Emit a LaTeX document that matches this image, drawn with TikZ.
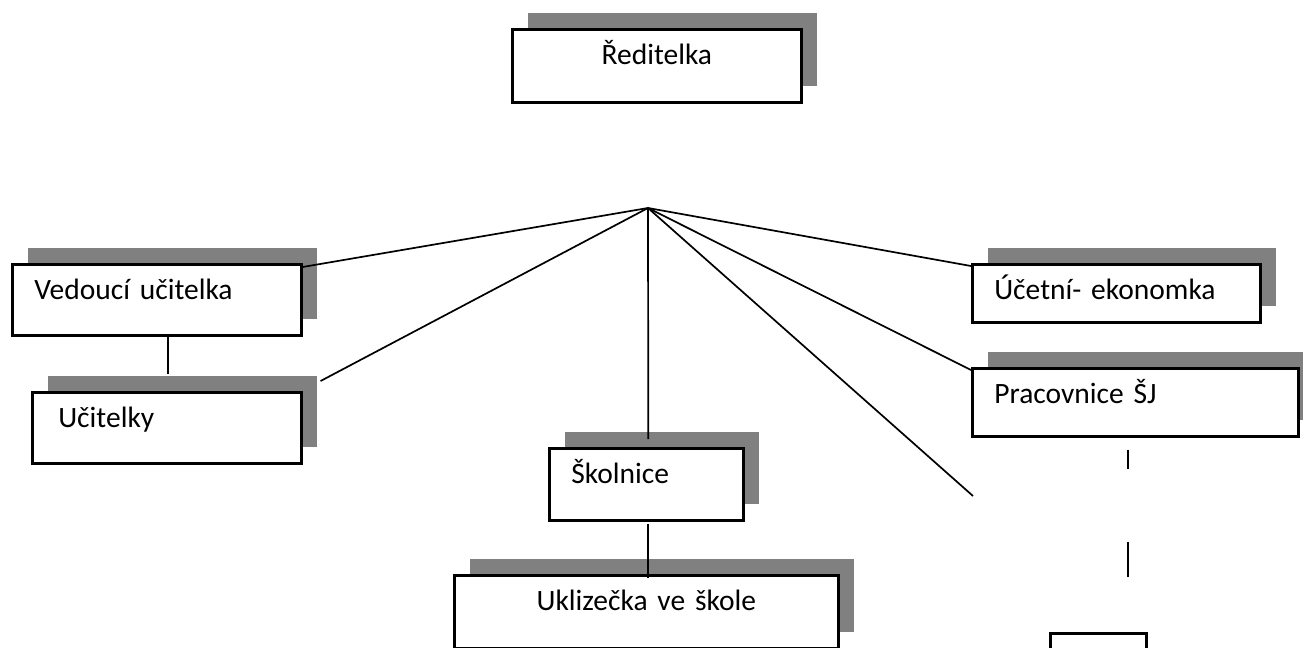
\documentclass[tikz,border=0pt]{standalone}
\usepackage{fontspec}
\setmainfont{Carlito}
\usetikzlibrary{positioning, calc, shadows}
\usepackage{xcolor}
\definecolor{shadowgray}{RGB}{128,128,128}
\newcommand{\orgfont}{\fontsize{14.75pt}{17pt}\selectfont}

\tikzset{
  orgbox/.style={draw, rectangle, line width=1.3pt, fill=white, anchor=north west,
    inner xsep=11pt, inner ysep=0pt, text height=17.5pt, align=left, font=\orgfont,
    general shadow={fill=shadowgray, shadow xshift=7.75pt, shadow yshift=8.25pt}},
  link/.style={line width=0.85pt},
}

\begin{document}
\begin{tikzpicture}[x=0.5pt, y=-0.5pt]
  \useasboundingbox (0,0) rectangle (1303,648);
  \clip (0,0) rectangle (1303,648);

  \node[orgbox, align=center, text width=122.5pt, text depth=19pt] (red) at (511,28) {Ředitelka};

  \node[orgbox, text width=122.5pt, text depth=18pt] (ved) at (11,263) {Vedoucí učitelka};
  \node[orgbox, text width=108.5pt, text depth=18pt, inner xsep=13pt] (uc) at (31,391) {Učitelky};

  \node[orgbox, text width=75pt, text depth=18.5pt] (skol) at (548,447) {Školnice};
  \node[orgbox, align=center, text width=170pt, text depth=19pt] (ukl) at (453,574) {Uklizečka ve škole};

  \node[orgbox, text width=122pt, text depth=11.5pt] (ucet) at (971,263) {Účetní- ekonomka};
  \node[orgbox, text width=141pt, text depth=16.5pt] (prac) at (971,367) {Pracovnice ŠJ};

  \node[draw, rectangle, line width=1.3pt, fill=white, anchor=north west,
    minimum width=48pt, minimum height=30pt] (sjstaff) at (1049,632) {};

  \coordinate (hub) at (648,208);
  \coordinate (cut) at (973,496);

  \draw[link] (hub) -- ([yshift=-2pt]ved.north east);
  \draw[link] (hub) -- ($(uc.north east)+(18,-10)$);
  \draw[link] (hub) -- ($(skol.north)+(2,-8)$);
  \draw[link] (hub) -- ([yshift=-1.5pt]ucet.north west);
  \draw[link] (hub) -- ([yshift=-1.5pt]prac.north west);
  \draw[link] (hub) -- (cut);

  \draw[link] ($(ved.south)+(11.5,0)$) coordinate (vu) -- ([yshift=8.5pt]vu |- uc.north);
  \draw[link] ($(skol.south)+(2,2)$) coordinate (su) -- ([yshift=-2pt]su |- ukl.north);

  \draw[link, dash pattern=on 9.5pt off 36.5pt on 19pt off 40pt]
    ($(prac.south)+(-7,12)$) -- ($(sjstaff.north)+(30,-55)$);
\end{tikzpicture}
\end{document}
